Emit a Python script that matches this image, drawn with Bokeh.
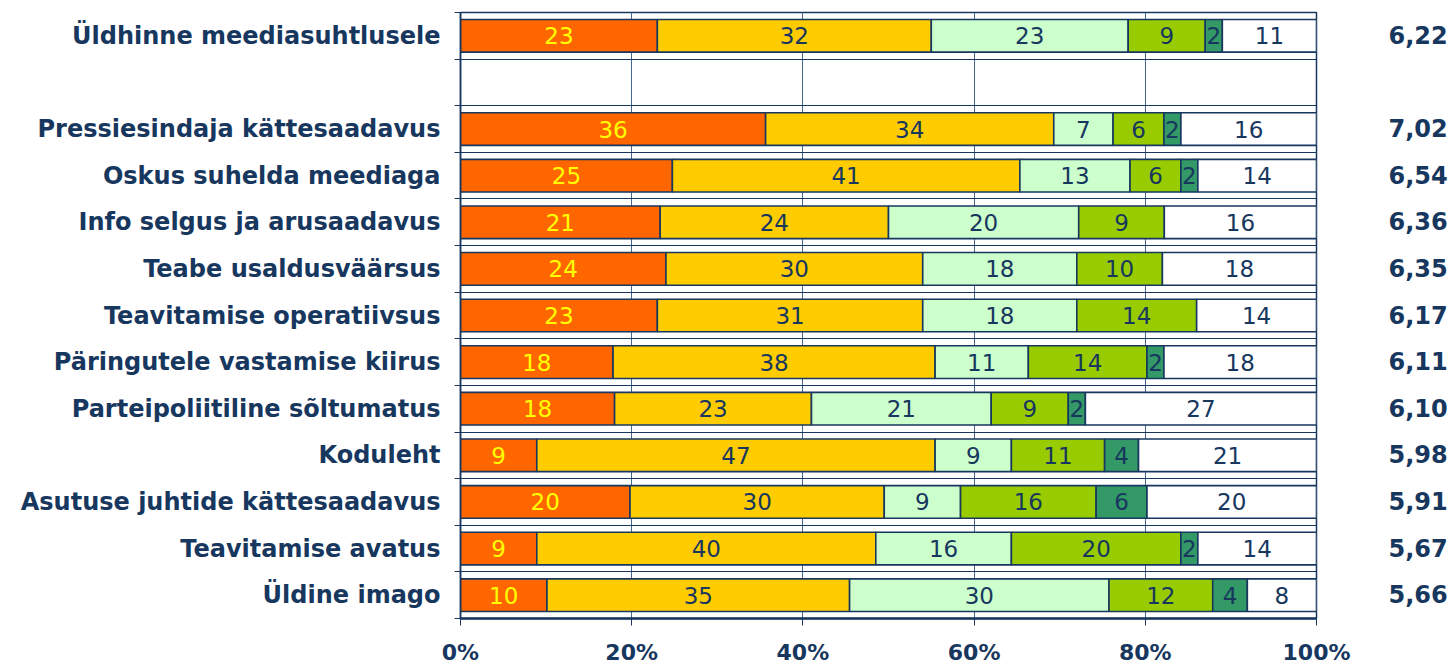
from bokeh.plotting import figure
from bokeh.models import Range1d, FixedTicker, LinearAxis, ColumnDataSource
from bokeh.embed import file_html
from bokeh.resources import INLINE
from bokeh.core.properties import value

categories = [
    "Üldhinne meediasuhtlusele",
    "",
    "Pressiesindaja kättesaadavus",
    "Oskus suhelda meediaga",
    "Info selgus ja arusaadavus",
    "Teabe usaldusväärsus",
    "Teavitamise operatiivsus",
    "Päringutele vastamise kiirus",
    "Parteipoliitiline sõltumatus",
    "Koduleht",
    "Asutuse juhtide kättesaadavus",
    "Teavitamise avatus",
    "Üldine imago",
]
s1 = [23, 0, 36, 25, 21, 24, 23, 18, 18, 9, 20, 9, 10]
s2 = [32, 0, 34, 41, 24, 30, 31, 38, 23, 47, 30, 40, 35]
s3 = [23, 0, 7, 13, 20, 18, 18, 11, 21, 9, 9, 16, 30]
s4 = [9, 0, 6, 6, 9, 10, 14, 14, 9, 11, 16, 20, 12]
s5 = [2, 0, 2, 2, 0, 0, 0, 2, 2, 4, 6, 2, 4]
s6 = [11, 0, 16, 14, 16, 18, 14, 18, 27, 21, 20, 14, 8]
scores = ["6,22", "", "7,02", "6,54", "6,36", "6,35", "6,17", "6,11",
          "6,10", "5,98", "5,91", "5,67", "5,66"]
x_ticks = [0, 20, 40, 60, 80, 100]
x_tick_labels = ["0%", "20%", "40%", "60%", "80%", "100%"]

series = [s1, s2, s3, s4, s5, s6]
colors = ["#FF6600", "#FFCC00", "#CCFFCC", "#99CC00", "#339966", "#FFFFFF"]
label_colors = ["#FFFF00", "#17375E", "#17375E", "#17375E", "#17375E", "#17375E"]
NAVY = "#17375E"

n = len(categories)
rows = list(range(n))

p = figure(width=1453, height=667, x_range=Range1d(0, 100),
           y_range=Range1d(n - 0.5, -0.5),
           output_backend="svg", toolbar_location=None,
           min_border_left=460, min_border_right=137,
           min_border_top=12, min_border_bottom=47)

p.outline_line_color = NAVY
p.outline_line_width = 1.5
p.background_fill_color = "white"
p.border_fill_color = "white"

# grids
p.xgrid.ticker = FixedTicker(ticks=[20, 40, 60, 80])
p.xgrid.grid_line_color = "#48658C"
p.xgrid.grid_line_width = 1
p.ygrid.ticker = FixedTicker(ticks=[i - 0.5 for i in range(n + 1)])
p.ygrid.grid_line_color = NAVY
p.ygrid.grid_line_width = 1

totals = [sum(s[i] for s in series) for i in rows]
cum = [0.0] * n
for k, s in enumerate(series):
    ys, lefts, rights, mids, texts = [], [], [], [], []
    for i in rows:
        if totals[i] == 0 or s[i] == 0:
            continue
        w = s[i] / totals[i] * 100.0
        ys.append(i)
        lefts.append(cum[i])
        rights.append(cum[i] + w)
        mids.append(cum[i] + w / 2)
        texts.append(str(s[i]))
        cum[i] += w
    src = ColumnDataSource(dict(y=ys, left=lefts, right=rights, mid=mids, text=texts))
    p.hbar(y="y", left="left", right="right", height=0.70, source=src,
           fill_color=colors[k], line_color=NAVY, line_width=1.6)
    p.text(x="mid", y="y", text="text", source=src, text_align="center",
           text_baseline="middle", text_font=value("DejaVu Sans"),
           text_font_size="23px", text_color=label_colors[k])

# left axis with category labels
ya = p.yaxis[0]
ya.ticker = FixedTicker(ticks=rows, minor_ticks=[i - 0.5 for i in range(n + 1)])
ya.major_label_overrides = {i: (c if c else " ") for i, c in zip(rows, categories)}
ya.major_tick_line_color = None
ya.major_tick_out = 0
ya.major_tick_in = 0
ya.minor_tick_line_color = NAVY
ya.minor_tick_out = 6
ya.minor_tick_in = 0
ya.axis_line_color = NAVY
ya.axis_line_width = 1.5
ya.major_label_standoff = 14
ya.major_label_text_font = "DejaVu Sans"
ya.major_label_text_font_style = "bold"
ya.major_label_text_font_size = "24px"
ya.major_label_text_color = NAVY

# right axis with scores
ra = LinearAxis(ticker=FixedTicker(ticks=rows))
ra.major_label_overrides = {i: (sc if sc else " ") for i, sc in zip(rows, scores)}
ra.major_tick_line_color = None
ra.major_tick_out = 0
ra.major_tick_in = 0
ra.minor_tick_line_color = None
ra.axis_line_color = None
ra.major_label_standoff = 72
ra.major_label_text_font = "DejaVu Sans"
ra.major_label_text_font_style = "bold"
ra.major_label_text_font_size = "24px"
ra.major_label_text_color = NAVY
p.add_layout(ra, "right")

# x axis
xa = p.xaxis[0]
xa.ticker = FixedTicker(ticks=x_ticks)
xa.major_label_overrides = {t: l for t, l in zip(x_ticks, x_tick_labels)}
xa.major_tick_out = 7
xa.major_tick_in = 0
xa.major_tick_line_color = NAVY
xa.minor_tick_line_color = None
xa.axis_line_color = NAVY
xa.axis_line_width = 2.5
xa.major_label_standoff = 14
xa.major_label_text_font = "DejaVu Sans"
xa.major_label_text_font_style = "bold"
xa.major_label_text_font_size = "22px"
xa.major_label_text_color = NAVY

open("out.html", "w").write(file_html(p, INLINE))
